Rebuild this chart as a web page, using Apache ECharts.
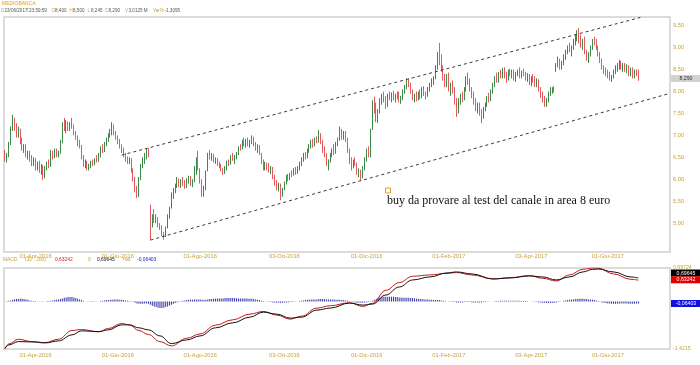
<!DOCTYPE html>
<html><head><meta charset="utf-8">
<script src="https://cdn.jsdelivr.net/npm/echarts@6/dist/echarts.min.js"></script>
<style>html,body{margin:0;padding:0;background:#fff}#c{width:700px;height:365px}</style>
</head><body><div id="c"></div>
<script>
// ---- trading sessions (Borsa Italiana), incl. empty future sessions on the right
const sessionMonths = ['2016-03','2016-04','2016-05','2016-06','2016-07','2016-08','2016-09','2016-10','2016-11','2016-12','2017-01','2017-02','2017-03','2017-04','2017-05','2017-06','2017-07'];
const sessionDays = [
 [8,9,10,11,14,15,16,17,18,21,22,23,24,29,30,31],
 [1,4,5,6,7,8,11,12,13,14,15,18,19,20,21,22,25,26,27,28,29],
 [2,3,4,5,6,9,10,11,12,13,16,17,18,19,20,23,24,25,26,27,30,31],
 [1,2,3,6,7,8,9,10,13,14,15,16,17,20,21,22,23,24,27,28,29,30],
 [1,4,5,6,7,8,11,12,13,14,15,18,19,20,21,22,25,26,27,28,29],
 [1,2,3,4,5,8,9,10,11,12,16,17,18,19,22,23,24,25,26,29,30,31],
 [1,2,5,6,7,8,9,12,13,14,15,16,19,20,21,22,23,26,27,28,29,30],
 [3,4,5,6,7,10,11,12,13,14,17,18,19,20,21,24,25,26,27,28,31],
 [1,2,3,4,7,8,9,10,11,14,15,16,17,18,21,22,23,24,25,28,29,30],
 [1,2,5,6,7,8,9,12,13,14,15,16,19,20,21,22,23,27,28,29,30],
 [2,3,4,5,6,9,10,11,12,13,16,17,18,19,20,23,24,25,26,27,30,31],
 [1,2,3,6,7,8,9,10,13,14,15,16,17,20,21,22,23,24,27,28],
 [1,2,3,6,7,8,9,10,13,14,15,16,17,20,21,22,23,24,27,28,29,30,31],
 [3,4,5,6,7,10,11,12,13,18,19,20,21,24,25,26,27,28],
 [2,3,4,5,8,9,10,11,12,15,16,17,18,19,22,23,24,25,26,29,30,31],
 [1,2,5,6,7,8,9,12,13,14,15,16,19,20,21,22,23,26,27,28,29,30],
 [3,4,5,6,7,10,11,12,13,14,17]
];

// ---- x tick labels
const tickDates  = ['2016-04-01','2016-06-01','2016-08-01','2016-10-03','2016-12-01','2017-02-01','2017-04-03','2017-06-01'];
const tickLabels = ['01-Apr-2016','01-Giu-2016','01-Ago-2016','03-Ott-2016','01-Dic-2016','01-Feb-2017','03-Apr-2017','01-Giu-2017'];
const priceTicks = [5,5.5,6,6.5,7,7.5,8,8.5,9,9.5];

// ---- daily OHLC (from 2016-03-08 to 2017-06-23)
const opens = [
6.60,6.45,6.55,6.80,7.15,7.35,7.20,7.00,7.10,6.85,
6.70,6.75,6.55,6.60,6.45,6.35,6.45,6.25,6.35,6.20,
6.30,6.05,6.25,6.35,6.30,6.60,6.50,6.65,6.55,6.60,
6.85,7.25,7.15,7.30,7.15,7.25,7.20,7.05,6.95,6.80,
6.75,6.50,6.30,6.40,6.25,6.30,6.38,6.35,6.45,6.42,
6.55,6.70,6.65,6.80,6.90,7.00,7.10,7.20,7.05,6.95,
6.85,6.75,6.65,6.55,6.45,6.40,6.45,6.20,6.00,5.75,
5.65,6.00,6.30,6.45,6.50,6.65,5.40,4.95,5.20,5.05,
5.10,4.95,4.88,4.75,4.72,4.90,5.15,5.35,5.60,5.72,
5.85,5.95,5.88,5.97,5.90,5.82,5.98,6.03,5.90,5.95,
6.25,6.45,6.20,5.95,5.70,5.80,6.20,6.55,6.50,6.55,
6.42,6.45,6.33,6.30,6.20,6.15,6.28,6.38,6.35,6.50,
6.45,6.52,6.58,6.72,6.70,6.85,6.80,6.88,6.78,6.86,
6.95,6.78,6.70,6.75,6.58,6.40,6.25,6.35,6.28,6.20,
6.25,6.05,5.90,5.80,5.85,5.62,5.78,5.92,6.05,6.00,
6.12,6.10,6.22,6.15,6.26,6.35,6.45,6.55,6.50,6.65,
6.75,6.85,6.78,6.90,6.85,7.00,6.85,6.65,6.55,6.35,
6.40,6.55,6.65,6.60,6.80,6.90,7.10,6.95,7.05,6.90,
6.65,6.40,6.30,6.40,6.35,6.15,6.20,6.05,6.25,6.45,
6.62,6.55,7.15,7.70,7.60,7.40,7.55,7.80,7.90,7.80,
7.70,7.90,7.85,7.95,7.85,7.92,7.88,7.80,7.85,8.00,
8.10,8.22,8.15,8.00,7.85,7.90,7.82,7.95,7.88,8.05,
7.95,7.90,8.05,8.15,8.25,8.30,8.55,8.85,8.70,8.50,
8.30,8.15,8.35,8.05,8.15,8.00,7.75,7.55,7.80,7.90,
7.82,8.05,8.30,8.20,8.05,7.90,7.75,7.60,7.70,7.50,
7.40,7.60,7.70,7.85,7.80,8.00,8.15,8.30,8.25,8.40,
8.35,8.50,8.35,8.30,8.45,8.40,8.45,8.30,8.40,8.45,
8.35,8.42,8.38,8.30,8.35,8.20,8.30,8.25,8.15,8.25,
8.05,7.90,7.80,7.75,7.80,7.95,8.05,8.08,8.50,8.60,
8.72,8.55,8.65,8.80,8.90,9.00,8.95,9.00,9.15,9.25,
9.30,9.20,9.05,9.15,8.90,8.75,8.85,9.00,9.15,9.10,
9.00,8.85,8.70,8.55,8.45,8.40,8.35,8.30,8.35,8.45,
8.55,8.60,8.65,8.55,8.60,8.50,8.55,8.40,8.50,8.35,
8.45,8.40];
const highs = [
6.67,6.60,6.85,7.20,7.47,7.40,7.28,7.20,7.15,6.95,
6.80,6.80,6.65,6.65,6.55,6.50,6.48,6.40,6.42,6.35,
6.32,6.30,6.40,6.45,6.67,6.65,6.70,6.70,6.65,6.90,
7.30,7.40,7.35,7.32,7.30,7.40,7.25,7.10,7.00,6.90,
6.78,6.55,6.45,6.42,6.35,6.42,6.45,6.48,6.55,6.60,
6.75,6.80,6.85,6.95,7.05,7.15,7.30,7.25,7.10,7.00,
6.92,6.80,6.72,6.60,6.52,6.50,6.48,6.25,6.05,5.85,
6.05,6.35,6.50,6.60,6.70,6.71,5.42,5.20,5.32,5.20,
5.14,5.00,4.95,4.80,4.92,5.20,5.37,5.70,5.80,5.90,
6.05,6.02,6.00,6.05,5.98,6.02,6.08,6.07,6.00,6.30,
6.50,6.65,6.25,6.00,5.85,6.20,6.60,6.67,6.60,6.58,
6.50,6.48,6.40,6.35,6.25,6.30,6.42,6.45,6.55,6.60,
6.55,6.62,6.75,6.80,6.90,6.95,6.92,6.95,6.90,7.00,
6.97,6.85,6.80,6.78,6.60,6.45,6.40,6.38,6.37,6.30,
6.28,6.10,5.98,5.92,5.90,5.80,5.95,6.10,6.12,6.15,
6.20,6.25,6.28,6.30,6.40,6.50,6.60,6.62,6.70,6.80,
6.90,6.92,6.95,6.98,7.12,7.05,6.90,6.75,6.60,6.45,
6.60,6.70,6.80,6.85,6.95,7.20,7.15,7.10,7.10,6.95,
6.70,6.50,6.45,6.50,6.38,6.25,6.22,6.30,6.50,6.70,
6.75,7.15,7.80,7.88,7.75,7.60,7.85,7.95,8.00,7.90,
7.95,8.00,7.98,8.02,7.95,8.00,8.00,7.90,8.05,8.15,
8.30,8.30,8.20,8.05,7.95,8.00,8.00,8.05,8.10,8.12,
8.00,8.10,8.20,8.30,8.35,8.60,8.90,9.11,8.85,8.60,
8.40,8.40,8.43,8.20,8.25,8.10,7.85,7.85,7.95,8.00,
8.10,8.35,8.43,8.30,8.10,8.00,7.85,7.75,7.75,7.60,
7.65,7.75,7.90,7.97,8.05,8.20,8.35,8.43,8.45,8.50,
8.54,8.55,8.45,8.50,8.52,8.50,8.50,8.45,8.50,8.55,
8.48,8.52,8.45,8.42,8.40,8.35,8.40,8.35,8.30,8.28,
8.10,8.00,7.90,7.85,8.00,8.10,8.10,8.12,8.65,8.80,
8.75,8.70,8.85,8.95,9.05,9.11,9.05,9.20,9.30,9.40,
9.45,9.30,9.20,9.25,8.95,8.90,9.05,9.20,9.25,9.20,
9.05,8.90,8.75,8.60,8.55,8.50,8.45,8.38,8.50,8.60,
8.65,8.72,8.70,8.65,8.65,8.62,8.60,8.55,8.55,8.50,
8.50,8.50];
const lows = [
6.40,6.38,6.50,6.78,7.10,7.10,6.95,6.95,6.80,6.65,
6.60,6.50,6.45,6.40,6.30,6.30,6.20,6.20,6.15,6.10,
5.98,6.02,6.20,6.25,6.28,6.45,6.48,6.50,6.50,6.58,
6.82,7.10,7.05,7.10,7.10,7.15,7.00,6.90,6.75,6.70,
6.45,6.28,6.25,6.20,6.20,6.25,6.30,6.32,6.38,6.40,
6.50,6.60,6.62,6.75,6.85,6.95,7.00,7.00,6.90,6.80,
6.70,6.60,6.50,6.40,6.35,6.35,6.15,5.95,5.70,5.57,
5.60,5.98,6.25,6.35,6.45,6.50,4.62,4.90,5.00,5.00,
4.90,4.84,4.70,4.62,4.68,4.88,5.10,5.33,5.55,5.68,
5.80,5.82,5.80,5.85,5.78,5.80,5.90,5.85,5.82,5.93,
6.10,6.20,5.90,5.60,5.60,5.75,6.18,6.45,6.42,6.38,
6.35,6.30,6.25,6.18,6.10,6.12,6.20,6.30,6.33,6.42,
6.35,6.45,6.55,6.65,6.68,6.75,6.72,6.75,6.72,6.80,
6.75,6.65,6.60,6.55,6.35,6.20,6.20,6.20,6.15,6.12,
6.00,5.85,5.75,5.72,5.52,5.60,5.75,5.88,5.95,5.98,
6.05,6.08,6.10,6.12,6.20,6.30,6.40,6.45,6.48,6.60,
6.70,6.72,6.75,6.82,6.83,6.80,6.60,6.50,6.30,6.20,
6.38,6.50,6.55,6.58,6.75,6.88,6.90,6.90,6.85,6.60,
6.35,6.20,6.25,6.30,6.10,6.05,5.98,6.02,6.20,6.40,
6.50,6.50,7.12,7.50,7.30,7.28,7.50,7.70,7.75,7.60,
7.65,7.80,7.75,7.80,7.75,7.82,7.75,7.72,7.80,7.95,
8.05,8.10,7.95,7.80,7.75,7.78,7.80,7.82,7.85,7.90,
7.82,7.88,8.00,8.10,8.15,8.28,8.50,8.60,8.45,8.25,
8.10,8.10,8.00,7.90,7.95,7.70,7.42,7.50,7.70,7.75,
7.80,8.00,8.15,8.00,7.85,7.70,7.55,7.50,7.45,7.28,
7.38,7.55,7.65,7.75,7.78,7.95,8.10,8.20,8.20,8.30,
8.30,8.30,8.20,8.25,8.35,8.30,8.25,8.22,8.35,8.30,
8.30,8.35,8.25,8.22,8.15,8.12,8.20,8.10,8.10,8.00,
7.85,7.75,7.65,7.65,7.75,7.90,7.95,7.98,8.45,8.55,
8.50,8.50,8.60,8.72,8.85,8.90,8.80,8.95,9.05,9.15,
9.10,9.00,8.95,8.85,8.70,8.65,8.80,8.95,9.05,8.95,
8.80,8.65,8.50,8.40,8.35,8.30,8.25,8.22,8.30,8.40,
8.45,8.50,8.50,8.45,8.45,8.42,8.35,8.35,8.30,8.30,
8.35,8.245];
const closes = [
6.45,6.55,6.80,7.15,7.35,7.20,7.00,7.10,6.85,6.70,
6.75,6.55,6.60,6.45,6.35,6.45,6.25,6.35,6.20,6.30,
6.05,6.25,6.35,6.30,6.60,6.50,6.65,6.55,6.60,6.85,
7.25,7.15,7.30,7.15,7.25,7.20,7.05,6.95,6.80,6.75,
6.50,6.30,6.40,6.25,6.30,6.38,6.35,6.45,6.42,6.55,
6.70,6.65,6.80,6.90,7.00,7.10,7.20,7.05,6.95,6.85,
6.75,6.65,6.55,6.45,6.40,6.45,6.20,6.00,5.75,5.65,
6.00,6.30,6.45,6.50,6.65,6.60,4.85,5.15,5.05,5.15,
4.95,4.88,4.75,4.70,4.88,5.15,5.30,5.60,5.72,5.85,
5.95,5.88,5.97,5.90,5.82,5.98,6.03,5.90,5.95,6.25,
6.45,6.25,5.95,5.70,5.80,6.15,6.55,6.50,6.55,6.42,
6.45,6.33,6.30,6.20,6.15,6.28,6.38,6.35,6.50,6.45,
6.52,6.58,6.72,6.70,6.85,6.80,6.88,6.78,6.86,6.95,
6.78,6.70,6.75,6.58,6.40,6.25,6.35,6.28,6.20,6.25,
6.05,5.90,5.80,5.88,5.62,5.78,5.92,6.05,6.00,6.12,
6.10,6.22,6.15,6.26,6.35,6.45,6.55,6.50,6.65,6.75,
6.85,6.78,6.90,6.85,7.05,6.85,6.65,6.55,6.35,6.40,
6.55,6.65,6.60,6.80,6.90,7.10,6.95,7.05,6.90,6.65,
6.40,6.30,6.40,6.35,6.15,6.20,6.05,6.25,6.45,6.62,
6.55,7.10,7.70,7.60,7.40,7.55,7.80,7.90,7.80,7.70,
7.90,7.85,7.95,7.85,7.92,7.88,7.80,7.85,8.00,8.10,
8.22,8.15,8.00,7.85,7.90,7.82,7.95,7.88,8.05,7.95,
7.90,8.05,8.15,8.25,8.30,8.55,8.85,8.70,8.50,8.30,
8.15,8.35,8.05,8.15,8.00,7.75,7.55,7.80,7.90,7.82,
8.05,8.30,8.20,8.05,7.90,7.75,7.60,7.70,7.50,7.40,
7.60,7.70,7.85,7.80,8.00,8.15,8.30,8.25,8.40,8.35,
8.50,8.35,8.30,8.45,8.40,8.45,8.30,8.40,8.45,8.35,
8.42,8.38,8.30,8.35,8.20,8.30,8.25,8.15,8.25,8.05,
7.90,7.80,7.75,7.80,7.95,8.05,8.08,8.05,8.60,8.72,
8.55,8.65,8.80,8.90,9.00,8.95,9.00,9.15,9.25,9.30,
9.20,9.05,9.15,8.90,8.75,8.85,9.00,9.15,9.10,9.00,
8.85,8.70,8.55,8.45,8.40,8.35,8.30,8.35,8.45,8.55,
8.60,8.65,8.55,8.60,8.50,8.55,8.40,8.50,8.35,8.45,
8.40,8.29];

// ---- channel lines (start / end anchor in date + price)
const upperChannel = [['2016-06-03', 6.551], ['2017-06-26', 9.69]];
const lowerChannel = [['2016-06-24', 4.612], ['2017-07-17', 7.953]];

// ---- MACD panel (sampled readings of the two lines) + daily histogram
const macdDates = ['2016-03-08','2016-03-10','2016-03-17','2016-03-30','2016-04-08','2016-04-19','2016-04-28','2016-05-05','2016-05-18','2016-05-25',
 '2016-06-03','2016-06-09','2016-06-16','2016-06-23','2016-07-01','2016-07-11','2016-07-21','2016-08-01','2016-08-11','2016-08-25',
 '2016-09-07','2016-09-16','2016-09-27','2016-10-06','2016-10-14','2016-10-26','2016-11-04','2016-11-18','2016-11-29','2016-12-06',
 '2016-12-15','2016-12-27','2017-01-05','2017-01-18','2017-01-31','2017-02-07','2017-02-17','2017-03-06','2017-03-17','2017-03-31',
 '2017-04-11','2017-04-24','2017-05-04','2017-05-15','2017-05-22','2017-05-25','2017-06-06','2017-06-19','2017-06-23'];
const signalLine = [-1.40,-1.30,-1.20,-1.21,-1.24,-1.18,-1.00,-0.88,-0.90,-0.85,
 -0.70,-0.70,-0.79,-0.85,-1.03,-1.26,-1.15,-1.03,-0.79,-0.64,
 -0.47,-0.32,-0.38,-0.50,-0.47,-0.26,-0.20,-0.05,-0.11,-0.08,
 0.19,0.43,0.64,0.73,0.85,0.88,0.82,0.67,0.70,0.76,
 0.73,0.64,0.73,0.88,0.955,0.967,0.88,0.73,0.69645];
const macdLine = [-1.4215,-1.27,-1.13,-1.20,-1.23,-1.13,-0.87,-0.84,-0.91,-0.81,
 -0.66,-0.70,-0.87,-0.99,-1.20,-1.33,-1.10,-0.97,-0.71,-0.55,
 -0.38,-0.30,-0.41,-0.53,-0.44,-0.20,-0.13,-0.04,-0.15,-0.06,
 0.33,0.56,0.75,0.79,0.84,0.86,0.79,0.67,0.71,0.77,
 0.69,0.61,0.79,0.96,0.99724,0.99,0.82,0.66,0.63242];
const histValues = [
0.00,0.01,0.02,0.03,0.05,0.06,0.07,0.07,0.08,0.08,
0.07,0.06,0.05,0.03,0.02,0.01,0.01,0.00,-0.01,-0.01,
-0.01,0.00,0.01,0.01,0.02,0.03,0.04,0.05,0.06,0.07,
0.09,0.11,0.12,0.13,0.13,0.13,0.12,0.10,0.08,0.06,
0.04,0.02,0.00,-0.01,-0.01,-0.02,-0.01,-0.01,-0.01,0.00,
0.01,0.02,0.03,0.04,0.04,0.05,0.05,0.06,0.06,0.06,
0.05,0.05,0.04,0.03,0.02,0.01,-0.01,-0.02,-0.04,-0.06,
-0.07,-0.07,-0.07,-0.06,-0.06,-0.07,-0.10,-0.13,-0.15,-0.17,
-0.19,-0.20,-0.20,-0.19,-0.17,-0.15,-0.12,-0.10,-0.07,-0.05,
-0.03,-0.01,0.01,0.02,0.03,0.04,0.05,0.05,0.05,0.06,
0.06,0.06,0.06,0.05,0.05,0.05,0.06,0.07,0.07,0.08,
0.08,0.09,0.09,0.09,0.09,0.10,0.10,0.10,0.10,0.10,
0.10,0.09,0.09,0.09,0.09,0.09,0.09,0.08,0.08,0.08,
0.07,0.06,0.05,0.04,0.02,0.01,0.00,-0.01,-0.02,-0.02,
-0.03,-0.03,-0.04,-0.04,-0.04,-0.04,-0.03,-0.03,-0.03,-0.02,
-0.02,-0.01,-0.01,0.00,0.01,0.02,0.03,0.04,0.05,0.05,
0.06,0.06,0.06,0.06,0.07,0.07,0.07,0.07,0.06,0.06,
0.06,0.06,0.06,0.05,0.05,0.05,0.04,0.04,0.03,0.02,
0.01,-0.01,-0.02,-0.03,-0.04,-0.04,-0.04,-0.04,-0.03,-0.03,
-0.02,-0.01,0.02,0.05,0.08,0.10,0.12,0.13,0.14,0.14,
0.14,0.14,0.14,0.14,0.13,0.13,0.12,0.12,0.11,0.11,
0.11,0.11,0.10,0.10,0.09,0.08,0.08,0.07,0.07,0.06,
0.06,0.06,0.05,0.05,0.04,0.04,0.04,0.04,0.03,0.02,
0.01,0.00,-0.01,-0.01,-0.02,-0.02,-0.03,-0.03,-0.03,-0.03,
-0.02,-0.02,-0.02,-0.02,-0.03,-0.03,-0.03,-0.03,-0.03,-0.03,
-0.02,-0.02,-0.01,-0.01,0.00,0.00,0.01,0.01,0.01,0.02,
0.02,0.02,0.02,0.02,0.02,0.02,0.02,0.02,0.02,0.02,
0.01,0.01,0.01,0.01,0.00,0.00,-0.01,-0.01,-0.02,-0.03,
-0.03,-0.04,-0.04,-0.05,-0.05,-0.05,-0.04,-0.04,-0.03,-0.02,
-0.01,0.00,0.02,0.03,0.04,0.05,0.06,0.06,0.07,0.07,
0.08,0.08,0.08,0.07,0.07,0.06,0.06,0.05,0.04,0.03,
0.01,-0.01,-0.03,-0.04,-0.05,-0.06,-0.06,-0.07,-0.07,-0.07,
-0.07,-0.06,-0.06,-0.06,-0.06,-0.06,-0.07,-0.07,-0.07,-0.07,
-0.06,-0.06403];
const macdAxisLabels = [-1.4215, 0.99724];

// ---- header / legend texts
const headerFields = [['D','23/06/2017'],['T','23:59:59'],['O','8,400'],['H','8,500'],['L','8,245'],['C','8,290'],['V','3,0125 M'],['Var%','-1,3095']];
const annotationText = 'buy da provare al test del canale in area 8 euro';

// ================= build =================
const categories = [];
sessionMonths.forEach((m, k) => sessionDays[k].forEach(d => categories.push(m + '-' + String(d).padStart(2, '0'))));
const candleData = opens.map((o, i) => [o, closes[i], lows[i], highs[i]]);
const comma = (v, d) => (d == null ? String(v) : v.toFixed(d)).replace('.', ',');

const GOLD = '#c9a23a';
const AX_FONT = 'Liberation Sans';
const xLabel = (margin) => ({
  show: true, color: GOLD, fontSize: 5.8, fontFamily: AX_FONT, margin: margin,
  interval: (idx, val) => tickDates.indexOf(val) >= 0,
  formatter: (val) => tickLabels[tickDates.indexOf(val)] || ''
});

const graphics = [];
graphics.push({type:'text', x:2, y:4, style:{text:'MEDIOBANCA', fill:'#e39a2a', font:'5px "Liberation Sans"', verticalAlign:'middle'}});
const headerX = [[1,4.5],[26,29],[51.5,55],[69.5,73],[87.5,91],[105,108.5],[125,128.5],[153,164.5]];
headerFields.forEach((f, k) => {
  graphics.push({type:'text', x:headerX[k][0], y:11, style:{text:f[0], fill:'#d9a030', font:'4.6px "Liberation Sans"', verticalAlign:'middle'}});
  graphics.push({type:'text', x:headerX[k][1], y:11, style:{text:f[1], fill:'#555', font:'4.6px "Liberation Sans"', verticalAlign:'middle'}});
});
// MACD legend
const macdLegend = [['MACD',3,GOLD],['(32 , 200)',25,GOLD],[comma(macdLine[macdLine.length-1]),55,'#d02020'],['9',88,GOLD],
  [comma(signalLine[signalLine.length-1]),97,'#111'],['hist',123,GOLD],[comma(histValues[histValues.length-1]),137,'#2020c0']];
macdLegend.forEach(t => graphics.push({type:'text', x:t[1], y:259.5, style:{text:t[0], fill:t[2], font:'4.9px "Liberation Sans"', verticalAlign:'middle'}}));
// right-hand value boxes
const boxes = [
  [75, comma(closes[closes.length-1], 3), '#d2d2d2', '#333'],
  [269.5, comma(signalLine[signalLine.length-1]), '#000', '#fff'],
  [276.3, comma(macdLine[macdLine.length-1]), '#e00000', '#fff'],
  [300, comma(histValues[histValues.length-1]), '#1010e0', '#fff']
];
boxes.forEach(b => {
  graphics.push({type:'rect', shape:{x:671, y:b[0], width:29, height:7}, style:{fill:b[2]}, z:10});
  graphics.push({type:'text', x:686, y:b[0]+3.6, z:11, style:{text:b[1], fill:b[3], font:'5.2px "Liberation Sans"', align:'center', verticalAlign:'middle'}});
});
// annotation
graphics.push({type:'rect', shape:{x:385.5, y:188, width:5, height:5}, style:{fill:'#fffbe8', stroke:'#e0a030', lineWidth:1}});
graphics.push({type:'text', x:387, y:200.5, style:{text:annotationText, fill:'#111', font:'12px "Liberation Serif"', verticalAlign:'middle'}});

const chart = echarts.init(document.getElementById('c'), null, {renderer:'canvas'});
chart.setOption({
  animation: false,
  backgroundColor: '#fff',
  grid: [
    {left:4, right:30, top:17, height:235, show:true, borderColor:'#cfcfcf', borderWidth:1.5, backgroundColor:'#fff'},
    {left:4, right:30, top:268, height:81, show:true, borderColor:'#cfcfcf', borderWidth:1.5, backgroundColor:'#fff'}
  ],
  xAxis: [
    {type:'category', gridIndex:0, data:categories, boundaryGap:true, axisLine:{show:false}, axisTick:{show:false}, splitLine:{show:false}, axisLabel:xLabel(1.5)},
    {type:'category', gridIndex:1, data:categories, boundaryGap:true, axisLine:{show:false}, axisTick:{show:false}, splitLine:{show:false}, axisLabel:xLabel(3)}
  ],
  yAxis: [
    {type:'value', gridIndex:0, position:'right', min:4.34, max:9.70, scale:true,
     axisLine:{show:false}, axisTick:{show:false}, splitLine:{show:false},
     axisLabel:{color:GOLD, fontSize:5.8, fontFamily:AX_FONT, margin:3, customValues:priceTicks, formatter:(v)=>comma(v,2)}},
    {type:'value', gridIndex:1, position:'right', min:-1.4215, max:0.99724,
     axisLine:{show:false}, axisTick:{show:false}, splitLine:{show:false},
     axisLabel:{color:GOLD, fontSize:5.2, fontFamily:AX_FONT, margin:3, customValues:macdAxisLabels, formatter:(v)=>comma(v)}}
  ],
  series: [
    {type:'candlestick', name:'MEDIOBANCA', xAxisIndex:0, yAxisIndex:0, data:candleData, barWidth:1.2,
     itemStyle:{color:'#3d8a48', color0:'#e4585e', borderColor:'#3d8a48', borderColor0:'#e4585e', borderWidth:1},
     markLine:{silent:true, symbol:['none','none'], label:{show:false},
       lineStyle:{color:'#3a3a3a', width:1, type:[3,3]},
       data:[
         [{coord:upperChannel[0]}, {coord:upperChannel[1]}],
         [{coord:lowerChannel[0]}, {coord:lowerChannel[1]}]
       ]}},
    {type:'bar', name:'hist', xAxisIndex:1, yAxisIndex:1, data:histValues, barWidth:1,
     itemStyle:{color:'#3434a8'}},
    {type:'line', name:'MACD', xAxisIndex:1, yAxisIndex:1, data:macdDates.map((d,i)=>[d, macdLine[i]]),
     smooth:0.4, smoothMonotone:'x', showSymbol:false, lineStyle:{color:'#c81818', width:1}},
    {type:'line', name:'signal', xAxisIndex:1, yAxisIndex:1, data:macdDates.map((d,i)=>[d, signalLine[i]]),
     smooth:0.4, smoothMonotone:'x', showSymbol:false, lineStyle:{color:'#111', width:1}}
  ],
  graphic: graphics
});
</script></body></html>
